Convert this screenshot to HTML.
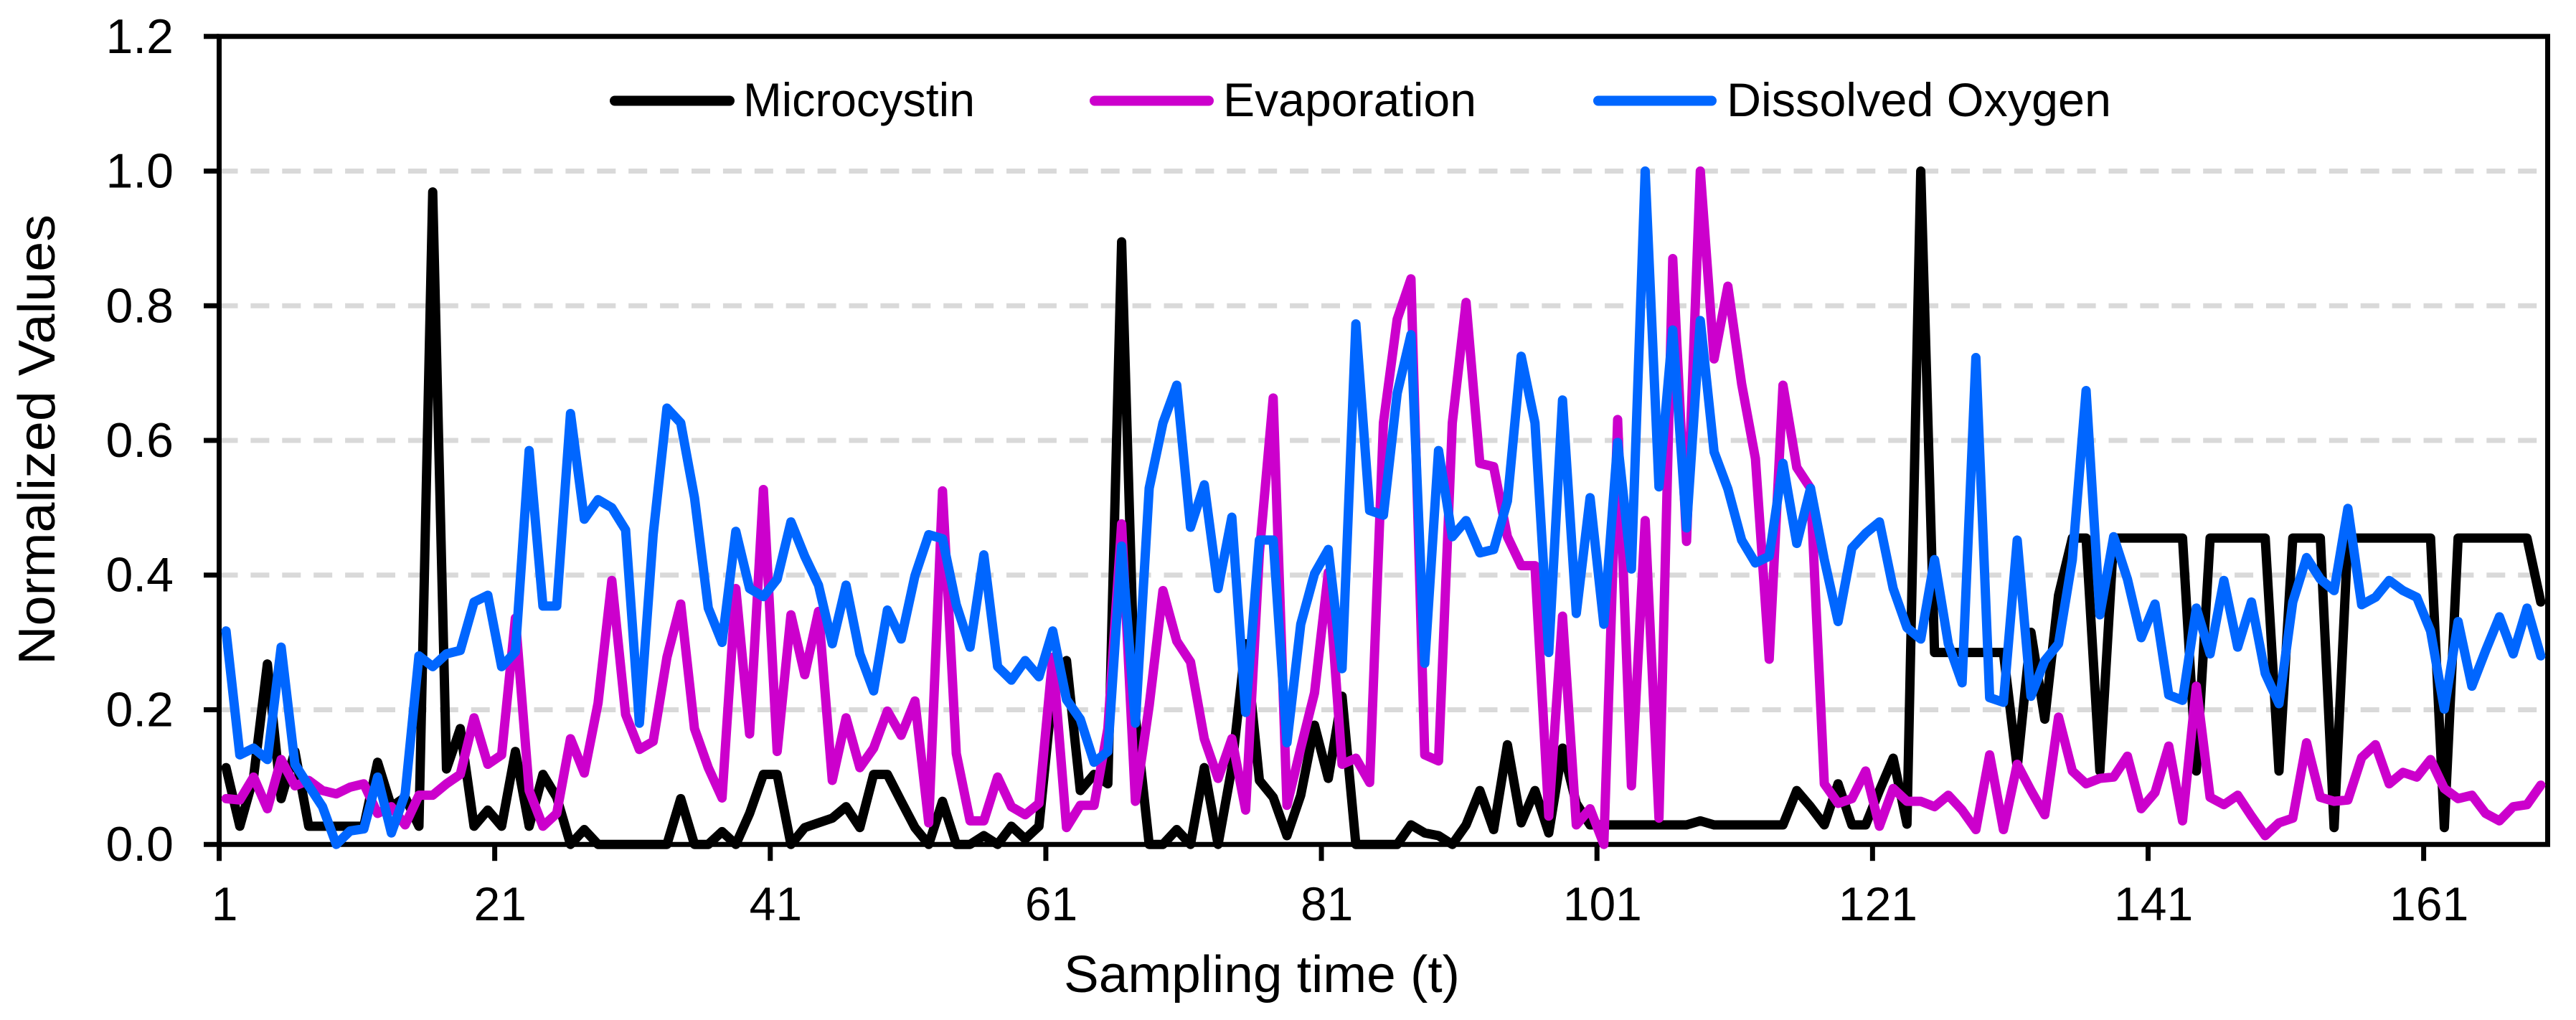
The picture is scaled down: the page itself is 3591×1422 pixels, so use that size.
<!DOCTYPE html>
<html lang="en">
<head>
<meta charset="utf-8">
<title>Normalized Values over Sampling Time</title>
<style>
html,body{margin:0;padding:0;background:#fff;}
svg{display:block;}
text{font-family:"Liberation Sans",sans-serif;fill:#000;}
</style>
</head>
<body>
<svg id="chart" xmlns="http://www.w3.org/2000/svg" width="3591" height="1422" viewBox="0 0 3591 1422">
  <rect x="0" y="0" width="3591" height="1422" fill="#ffffff"/>
  <g id="grid"></g>
  <g id="axes"></g>
  <g id="series"></g>
  <text transform="translate(76,613) rotate(-90)" text-anchor="middle" font-size="72" textLength="628" lengthAdjust="spacingAndGlyphs">Normalized Values</text>
  <text x="1759" y="1383" text-anchor="middle" font-size="72" textLength="552" lengthAdjust="spacingAndGlyphs">Sampling time (t)</text>
  <g>
    <g>
      <line x1="857" y1="140.5" x2="1017" y2="140.5" stroke="#000000" stroke-width="14" stroke-linecap="round"/>
      <text x="1036" y="162" font-size="66" textLength="323" lengthAdjust="spacingAndGlyphs">Microcystin</text>
    </g>
    <g>
      <line x1="1526" y1="140.5" x2="1685" y2="140.5" stroke="#cc00cc" stroke-width="14" stroke-linecap="round"/>
      <text x="1705" y="162" font-size="66" textLength="353" lengthAdjust="spacingAndGlyphs">Evaporation</text>
    </g>
    <g>
      <line x1="2228" y1="140.5" x2="2386" y2="140.5" stroke="#0066ff" stroke-width="14" stroke-linecap="round"/>
      <text x="2407" y="162" font-size="66" textLength="536" lengthAdjust="spacingAndGlyphs">Dissolved Oxygen</text>
    </g>
  </g>
</svg>
<script>
const xTickLabels = [1, 21, 41, 61, 81, 101, 121, 141, 161];
const yTickLabels = ["0.0", "0.2", "0.4", "0.6", "0.8", "1.0", "1.2"];
const yTickValues = [0, 0.2, 0.4, 0.6, 0.8, 1.0, 1.2];
const microcystin = [
.114,.027,.1,.268,.068,.138,.027,.027,.027,.027,
.027,.122,.056,.07,.027,.969,.112,.172,.027,.051,
.027,.138,.027,.104,.07,0,.022,0,0,0,
0,0,0,.068,0,0,.019,0,.046,.104,
.104,0,.025,.032,.039,.056,.025,.104,.104,.064,
.025,0,.064,0,0,.013,0,.027,.008,.027,
.23,.273,.08,.104,.09,.895,.19,0,0,.022,
0,.114,0,.114,.298,.095,.07,.013,.073,.177,
.098,.22,0,0,0,0,.029,.017,.013,0,
.029,.08,.022,.148,.032,.08,.017,.143,.061,.029,
.029,.029,.029,.029,.029,.029,.029,.035,.029,.029,
.029,.029,.029,.029,.08,.056,.029,.09,.029,.029,
.08,.128,.03,1.0,.285,.285,.285,.285,.285,.285,
.114,.315,.186,.37,.455,.455,.109,.455,.455,.455,
.455,.455,.455,.109,.455,.455,.455,.455,.455,.109,
.455,.455,.455,.025,.455,.455,.455,.455,.455,.455,
.455,.025,.455,.455,.455,.455,.455,.455,.36
];
const evaporation = [
.068,.066,.1,.053,.126,.087,.095,.08,.075,.085,
.09,.046,.056,.029,.073,.073,.09,.104,.188,.119,
.133,.336,.08,.027,.046,.157,.106,.21,.392,.193,
.141,.153,.278,.357,.172,.114,.069,.38,.164,.527,
.138,.341,.252,.346,.095,.188,.114,.143,.198,.162,
.213,.032,.525,.135,.035,.035,.1,.056,.044,.061,
.278,.025,.058,.058,.172,.476,.064,.206,.377,.302,
.271,.157,.098,.157,.051,.433,.663,.058,.143,.225,
.404,.119,.128,.092,.626,.78,.84,.133,.124,.626,
.805,.566,.561,.457,.414,.414,.042,.339,.029,.053,
0,.631,.087,.481,.039,.87,.45,1.0,.721,.829,
.684,.573,.275,.682,.56,.529,.09,.061,.068,.109,
.027,.083,.064,.064,.056,.073,.051,.022,.133,.022,
.119,.08,.044,.189,.109,.09,.098,.1,.131,.053,
.077,.146,.035,.235,.07,.059,.073,.042,.013,.032,
.039,.151,.07,.064,.066,.129,.148,.09,.107,.1,
.126,.083,.068,.073,.046,.035,.056,.059,.088
];
const dissolvedOxygen = [
.317,.133,.143,.126,.293,.119,.087,.056,0,.02,
.023,.1,.017,.075,.28,.264,.283,.288,.36,.37,
.264,.286,.585,.354,.354,.64,.483,.512,.5,.467,
.18,.46,.648,.626,.515,.351,.3,.465,.38,.368,
.394,.479,.428,.385,.298,.385,.283,.228,.348,.305,
.399,.46,.454,.356,.293,.43,.264,.244,.273,.249,
.317,.215,.186,.122,.138,.443,.18,.529,.626,.682,
.471,.534,.38,.486,.196,.452,.452,.151,.327,.402,
.438,.261,.773,.496,.489,.67,.757,.269,.585,.457,
.481,.433,.438,.51,.725,.626,.285,.66,.343,.515,
.327,.597,.409,1.0,.531,.764,.47,.778,.583,.528,
.452,.418,.428,.566,.447,.529,.423,.331,.44,.462,
.479,.38,.322,.305,.423,.298,.24,.723,.218,.211,
.452,.22,.273,.298,.423,.674,.341,.457,.394,.307,
.357,.222,.214,.351,.283,.392,.293,.36,.254,.209,
.36,.426,.394,.377,.499,.356,.367,.392,.377,.367,
.317,.201,.331,.235,.288,.338,.283,.351,.28
];

const SVG_NS = "http://www.w3.org/2000/svg";
const plotLeft = 305.5, plotRight = 3551.5, plotTop = 50.8, plotBottom = 1177.2;
const categoryCount = microcystin.length;
const yMax = 1.2;

function xBoundary(category) {
  return plotLeft + (plotRight - plotLeft) * (category - 1) / categoryCount;
}
function xCenter(category) {
  return xBoundary(category) + (plotRight - plotLeft) / categoryCount / 2;
}
function yScale(value) {
  return plotBottom - (plotBottom - plotTop) * value / yMax;
}
function make(tag, attrs, parent) {
  const el = document.createElementNS(SVG_NS, tag);
  for (const key in attrs) el.setAttribute(key, attrs[key]);
  parent.appendChild(el);
  return el;
}

const gridGroup = document.getElementById("grid");
const axesGroup = document.getElementById("axes");
const seriesGroup = document.getElementById("series");

yTickValues.forEach(function (value, i) {
  const y = yScale(value);
  if (value > 0 && value < yMax) {
    const grid = make("line", {x1: plotLeft, y1: y, x2: plotRight - 4, y2: y, stroke: "#d9d9d9", "stroke-width": 7, "stroke-dasharray": "26 17.9"}, gridGroup);
    
    
  }
  const tick = make("line", {x1: plotLeft - 21.5, y1: y, x2: plotLeft, y2: y, stroke: "#000", "stroke-width": 7}, axesGroup);
  
  
  const label = make("text", {x: 242, y: y + 23, "text-anchor": "end", "font-size": 68}, axesGroup);
  label.textContent = yTickLabels[i];
  
  
});

xTickLabels.forEach(function (category) {
  const x = xBoundary(category);
  if (category > 1) {
    const tick = make("line", {x1: x, y1: plotBottom, x2: x, y2: plotBottom + 23, stroke: "#000", "stroke-width": 7}, axesGroup);
    
    
  }
  const label = make("text", {x: xCenter(category) - 2, y: 1283, "text-anchor": "middle", "font-size": 66}, axesGroup);
  label.textContent = String(category);
  
  
});

const frame = make("path", {
  d: "M" + plotLeft + " " + plotBottom + " V" + plotTop + " H" + plotRight + " V" + plotBottom + " H" + plotLeft + " V" + (plotBottom + 23),
  fill: "none", stroke: "#000", "stroke-width": 7, "stroke-linejoin": "miter"
}, axesGroup);



function drawSeries(values, color) {
  const points = values.map(function (value, i) {
    return xCenter(i + 1).toFixed(2) + "," + yScale(value).toFixed(2);
  }).join(" ");
  return make("polyline", {points: points, fill: "none", stroke: color, "stroke-width": 13, "stroke-linejoin": "round", "stroke-linecap": "round"}, seriesGroup);
}

const microcystinLine = drawSeries(microcystin, "#000000");


const evaporationLine = drawSeries(evaporation, "#cc00cc");


const oxygenLine = drawSeries(dissolvedOxygen, "#0066ff");


</script>
</body>
</html>
